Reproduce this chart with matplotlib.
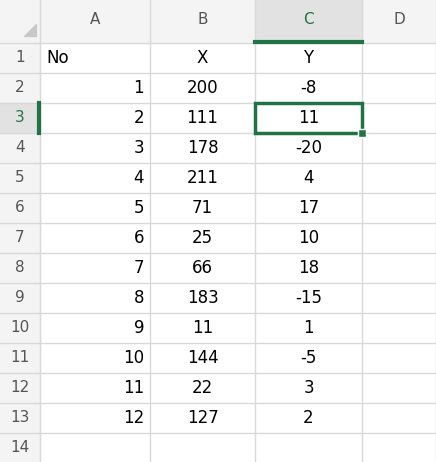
import matplotlib
matplotlib.use("Agg")
import matplotlib.pyplot as plt
from matplotlib.patches import Rectangle, Polygon

columns = ["A", "B", "C", "D"]
header = ["No", "X", "Y"]
no_vals = [1, 2, 3, 4, 5, 6, 7, 8, 9, 10, 11, 12]
x_vals = [200, 111, 178, 211, 71, 25, 66, 183, 11, 144, 22, 127]
y_vals = [-8, 11, -20, 4, 17, 10, 18, -15, 1, -5, 3, 2]
n_rows = 14

W, H = 436, 462
col_edges = [0, 40, 150, 255, 362, 436]
head_h = 43
row_h = 30
sel_col, sel_row = 2, 3  # column C, row 3

fig = plt.figure(figsize=(W / 100, H / 100), dpi=100)
ax = fig.add_axes([0, 0, 1, 1])
ax.set_xlim(0, W)
ax.set_ylim(H, 0)
ax.axis("off")

grid = "#d9d9d9"
hdr_bg = "#f4f4f4"
sel_bg = "#e2e2e2"
green = "#217346"

def row_top(r):
    return head_h + (r - 1) * row_h

# header backgrounds
ax.add_patch(Rectangle((0, 0), W, head_h, color=hdr_bg, zorder=0))
ax.add_patch(Rectangle((0, 0), 40, H, color=hdr_bg, zorder=0))
ax.add_patch(Rectangle((col_edges[sel_col + 1], 0), col_edges[sel_col + 2] - col_edges[sel_col + 1], head_h, color=sel_bg, zorder=0))
ax.add_patch(Rectangle((0, row_top(sel_row)), 40, row_h, color=sel_bg, zorder=0))
ax.add_patch(Polygon([[24, 36], [36, 36], [36, 24]], color="#c8c8c8", zorder=1))

# grid lines
for x in col_edges[1:]:
    ax.plot([x, x], [0, H], color=grid, lw=1, zorder=1)
for r in range(1, n_rows + 2):
    y = row_top(r)
    ax.plot([0, W], [y, y], color=grid, lw=1, zorder=1)

# column letters
for i, c in enumerate(columns):
    cx = (col_edges[i + 1] + col_edges[i + 2]) / 2
    col = green if i == sel_col else "#555555"
    ax.text(cx, 20, c, ha="center", va="center", fontsize=11, color=col)
ax.plot([col_edges[sel_col + 1], col_edges[sel_col + 2]], [head_h - 1, head_h - 1], color=green, lw=3, zorder=3)

# row numbers
for r in range(1, n_rows + 1):
    col = green if r == sel_row else "#555555"
    ax.text(20, row_top(r) + row_h / 2, str(r), ha="center", va="center", fontsize=11, color=col)
ax.plot([39, 39], [row_top(sel_row), row_top(sel_row + 1)], color=green, lw=3, zorder=3)

# cells
fs = 12
ax.text(col_edges[1] + 6, row_top(1) + row_h / 2, header[0], ha="left", va="center", fontsize=fs)
ax.text((col_edges[2] + col_edges[3]) / 2, row_top(1) + row_h / 2, header[1], ha="center", va="center", fontsize=fs)
ax.text((col_edges[3] + col_edges[4]) / 2, row_top(1) + row_h / 2, header[2], ha="center", va="center", fontsize=fs)
for i, (n, xv, yv) in enumerate(zip(no_vals, x_vals, y_vals)):
    cy = row_top(i + 2) + row_h / 2
    ax.text(col_edges[2] - 6, cy, str(n), ha="right", va="center", fontsize=fs)
    ax.text((col_edges[2] + col_edges[3]) / 2, cy, str(xv), ha="center", va="center", fontsize=fs)
    ax.text((col_edges[3] + col_edges[4]) / 2, cy, str(yv), ha="center", va="center", fontsize=fs)

# selected cell
x0, x1 = col_edges[sel_col + 1], col_edges[sel_col + 2]
y0, y1 = row_top(sel_row), row_top(sel_row + 1)
ax.add_patch(Rectangle((x0, y0), x1 - x0, y1 - y0, fill=False, ec=green, lw=2.5, zorder=4))
ax.add_patch(Rectangle((x1 - 4, y1 - 4), 8, 8, color=green, ec="white", lw=1, zorder=5))

fig.savefig("out.png", dpi=100)
